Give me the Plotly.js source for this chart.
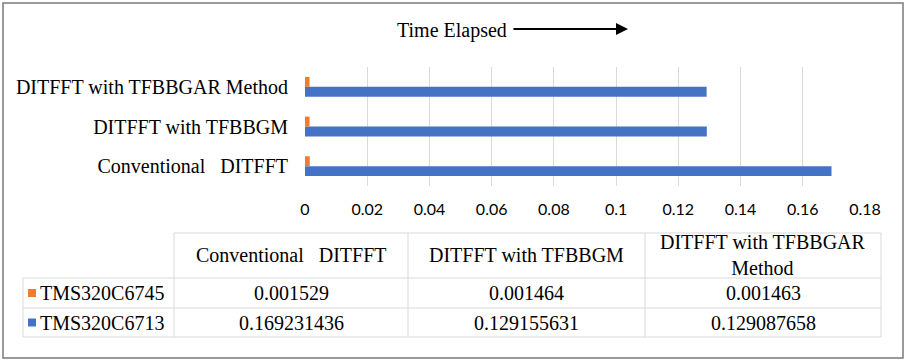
<!DOCTYPE html>
<html>
<head>
<meta charset="utf-8">
<script src="https://cdn.plot.ly/plotly-3.0.1.min.js"></script>
<style>html,body{margin:0;padding:0;background:#fff;}#chart{width:911px;height:364px;}</style>
</head>
<body>
<div id="chart"></div>
<script>
const categories = ["Conventional\u00a0\u00a0\u00a0DITFFT", "DITFFT with TFBBGM", "DITFFT with TFBBGAR Method"];
const headerLabels = ["Conventional\u00a0\u00a0\u00a0DITFFT", "DITFFT with TFBBGM", "DITFFT with TFBBGAR<br>Method"];
const seriesNames = ["TMS320C6745", "TMS320C6713"];
const c6745 = [0.001529, 0.001464, 0.001463];
const c6713 = [0.169231436, 0.129155631, 0.129087658];
const c6745Text = ["0.001529", "0.001464", "0.001463"];
const c6713Text = ["0.169231436", "0.129155631", "0.129087658"];
const xTicks = [0, 0.02, 0.04, 0.06, 0.08, 0.1, 0.12, 0.14, 0.16, 0.18];

const BLUE = "#4472C4", ORANGE = "#ED7D31";
const W = 911, H = 364;
const serif = "Liberation Serif, Times New Roman, serif";
const GRID = "#d9d9d9";

// table geometry (pixels)
const colEdges = [23, 174, 408, 645, 881];
const rowEdges = [233, 278, 308, 337];
const px = v => v / W;
const py = v => 1 - v / H;

const traces = [
  {type: "bar", orientation: "h", name: seriesNames[1], y: categories, x: c6713,
   marker: {color: BLUE}, hoverinfo: "x+y"},
  {type: "bar", orientation: "h", name: seriesNames[0], y: categories, x: c6745,
   marker: {color: ORANGE}, hoverinfo: "x+y"}
];

const annotations = [
  {xref: "paper", yref: "paper", x: px(452), y: py(30), xanchor: "center", yanchor: "middle",
   text: "Time Elapsed", showarrow: false, font: {family: serif, size: 20, color: "#000"}},
  {xref: "paper", yref: "paper", x: px(628), y: py(29), ax: -116, ay: 0,
   text: "", showarrow: true, arrowhead: 2, arrowsize: 1.2, arrowwidth: 2, arrowcolor: "#000"}
];

const shapes = [
  {type: "rect", xref: "paper", yref: "paper", x0: px(3), x1: px(903), y0: py(358), y1: py(3),
   line: {color: "#7a7a7a", width: 1.5}, fillcolor: "rgba(0,0,0,0)", layer: "above"}
];

function hline(y, x0, x1) {
  shapes.push({type: "line", xref: "paper", yref: "paper", x0: px(x0), x1: px(x1), y0: py(y), y1: py(y),
    line: {color: GRID, width: 1}});
}
function vline(x, y0, y1) {
  shapes.push({type: "line", xref: "paper", yref: "paper", x0: px(x), x1: px(x), y0: py(y0), y1: py(y1),
    line: {color: GRID, width: 1}});
}
// grid lines of the data table
hline(rowEdges[0], colEdges[1], colEdges[4]);
for (let r = 1; r < rowEdges.length; r++) hline(rowEdges[r], colEdges[0], colEdges[4]);
vline(colEdges[0], rowEdges[1], rowEdges[3]);
for (let c = 1; c < colEdges.length; c++) vline(colEdges[c], rowEdges[0], rowEdges[3]);

function cellText(txt, c, r, align) {
  const xc = align === "left" ? colEdges[c] + 15 : (colEdges[c] + colEdges[c + 1]) / 2;
  annotations.push({xref: "paper", yref: "paper", x: px(xc), y: py((rowEdges[r] + rowEdges[r + 1]) / 2),
    xanchor: align === "left" ? "left" : "center", yanchor: "middle", showarrow: false,
    text: txt, font: {family: serif, size: 20, color: "#000"}});
}
// header row
headerLabels.forEach((h, i) => cellText(h, i + 1, 0, "center"));
// series rows
const rows = [[seriesNames[0], ORANGE, c6745Text], [seriesNames[1], BLUE, c6713Text]];
rows.forEach((row, ri) => {
  const r = ri + 1;
  const yc = (rowEdges[r] + rowEdges[r + 1]) / 2;
  shapes.push({type: "rect", xref: "paper", yref: "paper",
    x0: px(colEdges[0] + 5), x1: px(colEdges[0] + 13), y0: py(yc + 4), y1: py(yc - 4),
    line: {width: 0}, fillcolor: row[1]});
  cellText(row[0], 0, r, "left");
  row[2].forEach((t, ci) => cellText(t, ci + 1, r, "center"));
});

const layout = {
  width: W, height: H,
  margin: {l: 0, r: 0, t: 0, b: 0},
  paper_bgcolor: "#fff", plot_bgcolor: "#fff",
  showlegend: false,
  barmode: "group",
  bargap: 0.5,
  bargroupgap: 0,
  xaxis: {
    domain: [px(305), px(865)],
    range: [0, 0.18],
    tickvals: xTicks,
    ticktext: xTicks.map(v => String(v)),
    showgrid: true, gridcolor: GRID, gridwidth: 1,
    zeroline: false, showline: false, ticks: "",
    ticklabelstandoff: 12,
    tickfont: {family: "Lato, Carlito, Calibri, sans-serif", size: 16, color: "#000"},
    fixedrange: true
  },
  yaxis: {
    domain: [py(186), py(67)],
    categoryorder: "array", categoryarray: categories,
    showgrid: false, zeroline: false, showline: false, ticks: "",
    ticklabelstandoff: 16,
    tickfont: {family: serif, size: 20, color: "#000"},
    fixedrange: true
  },
  annotations: annotations,
  shapes: shapes
};

Plotly.newPlot("chart", traces, layout, {displayModeBar: false, staticPlot: true});
</script>
</body>
</html>
